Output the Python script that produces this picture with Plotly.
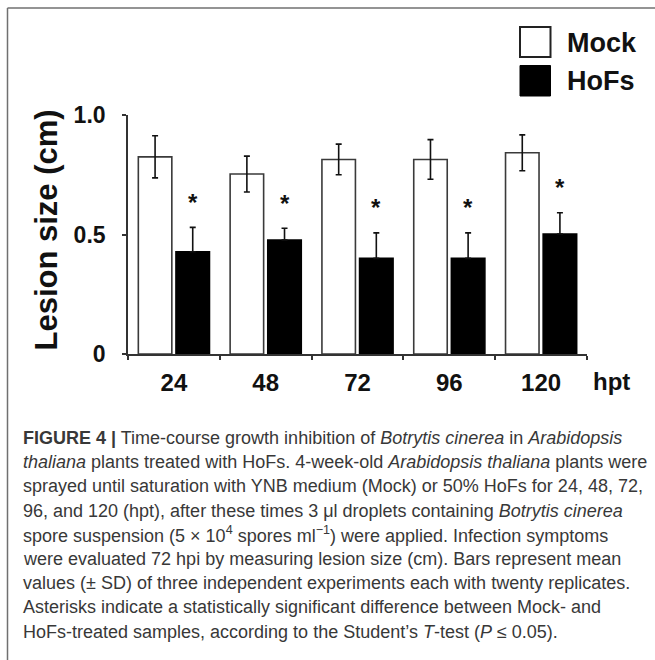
import plotly.graph_objects as go

# ---- data ----
categories = ["24", "48", "72", "96", "120"]
mock_mean = [0.825, 0.753, 0.814, 0.814, 0.842]
mock_sd = [0.088, 0.075, 0.064, 0.083, 0.075]
hofs_mean = [0.428, 0.477, 0.400, 0.400, 0.502]
hofs_sd = [0.102, 0.049, 0.107, 0.107, 0.089]
significant = [True, True, True, True, True]
y_tickvals = [0, 0.5, 1.0]
y_ticktext = ["0", "0.5", "1.0"]

caption_lines = [
    "<b>FIGURE 4 |</b> Time-course growth inhibition of <i>Botrytis cinerea</i> in <i>Arabidopsis</i>",
    "<i>thaliana</i> plants treated with HoFs. 4-week-old <i>Arabidopsis thaliana</i> plants were",
    "sprayed until saturation with YNB medium (Mock) or 50% HoFs for 24, 48, 72,",
    "96, and 120 (hpt), after these times 3 \u03bcl droplets containing <i>Botrytis cinerea</i>",
    "spore suspension (5 \u00d7 10<sup>4</sup> spores ml<sup>\u22121</sup>) were applied. Infection symptoms",
    "were evaluated 72 hpi by measuring lesion size (cm). Bars represent mean",
    "values (\u00b1 SD) of three independent experiments each with twenty replicates.",
    "Asterisks indicate a statistically significant difference between Mock- and",
    "HoFs-treated samples, according to the Student\u2019s <i>T</i>-test (<i>P</i> \u2264 0.05).",
]

# ---- layout geometry (pixels) ----
W, H = 655, 660
ML, MR, MT, MB = 128, 68, 115, 306
PW = W - ML - MR
PH = H - MT - MB


def xp(px):
    return (px - ML) / PW


def yp(py):
    return (H - MB - py) / PH


FONT = "Liberation Sans, Arial, sans-serif"
INK = "#111111"

fig = go.Figure()
fig.add_trace(go.Bar(
    x=categories, y=mock_mean, name="Mock",
    marker=dict(color="white", line=dict(color="#3a3a3a", width=1.6)),
    error_y=dict(type="data", array=mock_sd, visible=True,
                 color=INK, thickness=1.6, width=3),
))
fig.add_trace(go.Bar(
    x=categories, y=hofs_mean, name="HoFs",
    marker=dict(color="black", line=dict(color="black", width=1.6)),
    # lower half of the whisker is hidden inside the black bar in the reference
    error_y=dict(type="data", symmetric=False, array=hofs_sd,
                 arrayminus=[0] * len(hofs_sd), visible=True,
                 color=INK, thickness=1.6, width=3),
))

annotations = []
# significance asterisks above HoFs bars
for i, (m, s, sig) in enumerate(zip(hofs_mean, hofs_sd, significant)):
    if sig:
        annotations.append(dict(
            x=i + 0.205, y=m + s + 0.125, xref="x", yref="y",
            text="<b>*</b>", showarrow=False, yshift=-5,
            font=dict(family=FONT, size=24, color=INK),
        ))

# "hpt" unit label
annotations.append(dict(
    x=xp(611), y=yp(381), xref="paper", yref="paper", text="<b>hpt</b>",
    showarrow=False, xanchor="center", yanchor="middle",
    font=dict(family=FONT, size=24, color=INK),
))
# y axis title
annotations.append(dict(
    x=xp(46), y=yp(230.5), xref="paper", yref="paper",
    text="<b>Lesion size (cm)</b>", textangle=-90, showarrow=False,
    xanchor="center", yanchor="middle",
    font=dict(family=FONT, size=31, color=INK),
))
# legend texts
for label, cy in (("Mock", 43), ("HoFs", 81)):
    annotations.append(dict(
        x=xp(565), y=yp(cy), xref="paper", yref="paper", text="<b>%s</b>" % label,
        showarrow=False, xanchor="left", yanchor="middle",
        font=dict(family=FONT, size=27, color=INK),
    ))
# caption
for k, line in enumerate(caption_lines):
    annotations.append(dict(
        x=xp(21), y=yp(438 + k * 24.2), xref="paper", yref="paper", text=line,
        showarrow=False, xanchor="left", yanchor="middle", align="left",
        font=dict(family=FONT, size=18, color="#383838"),
    ))

shapes = [
    # legend swatches
    dict(type="rect", xref="paper", yref="paper",
         x0=xp(520), x1=xp(550.5), y0=yp(57), y1=yp(27),
         fillcolor="white", line=dict(color="#222222", width=2)),
    dict(type="rect", xref="paper", yref="paper",
         x0=xp(520), x1=xp(550.5), y0=yp(96), y1=yp(65.5),
         fillcolor="black", line=dict(color="black", width=1)),
    # frame lines
    dict(type="line", xref="paper", yref="paper",
         x0=xp(7.5), x1=xp(656), y0=yp(8), y1=yp(8),
         line=dict(color="#707070", width=1.5)),
    dict(type="line", xref="paper", yref="paper",
         x0=xp(7.5), x1=xp(7.5), y0=yp(8), y1=yp(661),
         line=dict(color="#707070", width=1.5)),
]

fig.update_layout(
    width=W, height=H,
    margin=dict(l=ML, r=MR, t=MT, b=MB, pad=0),
    paper_bgcolor="white", plot_bgcolor="white",
    barmode="group", bargap=0.18, bargroupgap=0.11,
    showlegend=False,
    annotations=annotations, shapes=shapes,
    font=dict(family=FONT, color=INK),
)
fig.update_xaxes(
    type="category", range=[-0.5, 4.5], tickson="boundaries",
    showline=True, linecolor="#333333", linewidth=1.6,
    ticks="outside", ticklen=4, tickwidth=1.6, tickcolor="#333333",
    showgrid=False, zeroline=False, automargin=False,
    tickfont=dict(family=FONT, size=24, color=INK, weight="bold"),
    ticklabelstandoff=6,
)
fig.update_yaxes(
    range=[0, 1.0], tickvals=y_tickvals, ticktext=y_ticktext,
    showline=True, linecolor="#333333", linewidth=1.6,
    ticks="outside", ticklen=4, tickwidth=1.6, tickcolor="#333333",
    showgrid=False, zeroline=False, automargin=False,
    tickfont=dict(family=FONT, size=23, color=INK, weight="bold"),
    ticklabelstandoff=12,
)

fig.write_html(
    "out.html",
    config={"displayModeBar": False},
    post_script="document.body.style.margin='0';document.body.style.overflow='hidden';",
)
